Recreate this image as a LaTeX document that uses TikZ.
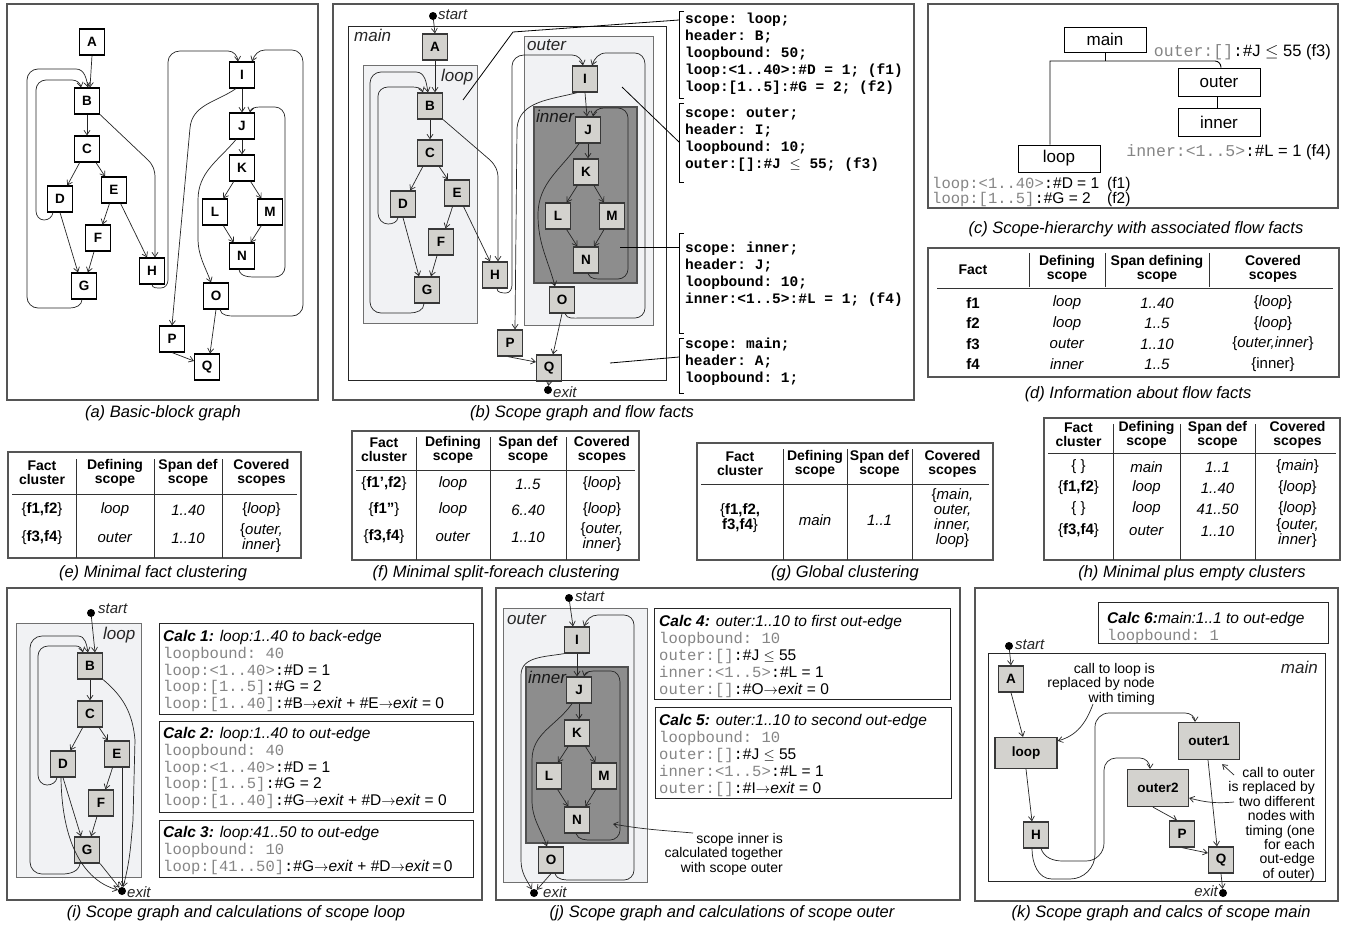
\documentclass[tikz,border=0pt]{standalone}
\usepackage{fontspec}
\setmainfont{Liberation Sans}
\setmonofont{Liberation Mono}
\usetikzlibrary{arrows.meta}
\definecolor{panelgray}{HTML}{555555}
\definecolor{nodefill}{HTML}{D3D2CE}
\definecolor{nodeedge}{HTML}{383838}
\definecolor{scopefill}{HTML}{F1F2F4}
\definecolor{scopeedge}{HTML}{707070}
\definecolor{innerfill}{HTML}{8D8D8D}
\definecolor{inneredge}{HTML}{505050}
\definecolor{monogray}{HTML}{858585}
\newcommand{\myfs}[1]{\fontsize{#1}{#1}\selectfont}
\newcommand{\greymono}[1]{{\color{monogray}\ttfamily #1}}
\newcommand{\dcolon}{{\ttfamily:}}
\newcommand{\toexit}{$\rightarrow$\textit{exit}}
\tikzset{
  bb/.style={draw=black, line width=1.1pt, fill=white, minimum width=25pt, minimum height=26pt, inner sep=0pt, font=\myfs{13.5}\bfseries},
  sb/.style={bb, fill=nodefill, draw=nodeedge, line width=1.3pt},
  ed/.style={draw=black!85, line width=0.7pt, -{Straight Barb[length=4.5pt,width=6pt]}},
  pnl/.style={draw=panelgray, line width=1.1pt},
  scp/.style={draw=scopeedge, line width=0.9pt, fill=scopefill},
  inr/.style={draw=inneredge, line width=1.2pt, fill=innerfill},
  framebox/.style={draw=black!85, line width=0.9pt},
  captxt/.style={font=\myfs{16.5}\itshape, inner sep=0pt},
  slbl/.style={font=\myfs{17}\itshape, inner sep=0pt, anchor=west, text=black!85},
  elbl/.style={font=\myfs{15}\itshape, inner sep=0pt, text=black!85},
  blackdot/.style={circle, fill=black, inner sep=0pt, minimum size=8pt},
  ldr/.style={draw=black, line width=0.8pt},
  treeln/.style={draw=black, line width=0.9pt},
  tbox/.style={draw=black, line width=0.9pt, minimum width=82pt, inner sep=0pt, font=\myfs{17}},
  th/.style={font=\fontsize{14}{14}\selectfont\bfseries, align=center, inner sep=0pt},
  td/.style={font=\fontsize{15}{13.5}\selectfont, align=center, inner sep=0pt},
  tline/.style={draw=black!80, line width=0.8pt},
  calctxt/.style={anchor=north west, inner sep=0pt, font=\fontsize{15.5}{16.6}\selectfont},
  bfact/.style={anchor=north west, inner sep=0pt, font=\fontsize{14.5}{17}\selectfont\ttfamily\bfseries},
  annot/.style={anchor=north east, inner sep=0pt, font=\fontsize{14}{14.3}\selectfont},
}
\begin{document}
\begin{tikzpicture}[x=1pt,y=1pt]
\useasboundingbox (0,0) rectangle (1348,-929);
\fill[white] (0,0) rectangle (1348,-929);

% ================= (a) =================
\draw[pnl] (7,-4) rectangle (318,-400);
\node[bb] (aA) at (92,-42) {A};
\node[bb] (aB) at (87,-101) {B};
\node[bb] (aC) at (87,-149) {C};
\node[bb] (aD) at (60,-199) {D};
\node[bb] (aE) at (114,-190) {E};
\node[bb] (aF) at (98,-238) {F};
\node[bb] (aG) at (84,-286) {G};
\node[bb] (aH) at (152,-271) {H};
\node[bb] (aI) at (242,-75) {I};
\node[bb] (aJ) at (242,-126) {J};
\node[bb] (aK) at (242,-168) {K};
\node[bb] (aL) at (215,-212) {L};
\node[bb] (aM) at (270,-212) {M};
\node[bb] (aN) at (242,-256) {N};
\node[bb] (aO) at (216,-296) {O};
\node[bb] (aP) at (172,-339) {P};
\node[bb] (aQ) at (207,-367) {Q};
\draw[ed] (aA.south) -- ([xshift=3pt]aB.north);
\draw[ed] (aB) -- (aC);
\draw[ed] (aC) -- (aD);
\draw[ed] (aC) -- (aE);
\draw[ed] (aE) -- (aF);
\draw[ed] (aF) -- (aG);
\draw[ed] (aD.south) -- ([xshift=-6pt]aG.north);
\draw[ed] (aE) -- ([xshift=-5pt]aH.north);
\draw[ed] (aB.south east) -- (148,-160) to[out=-45,in=90] (155,-178) -- ([xshift=3pt]aH.north);
\draw[ed] ([xshift=-2pt]aG.south) to[out=-90,in=0] (70,-308) -- (38,-308) to[out=180,in=-90] (27,-297) -- (27,-80) to[out=90,in=180] (38,-69) -- (76,-69) to[out=0,in=100] ([xshift=1pt]aB.north);
\draw[ed] ([xshift=-7pt]aD.south) to[out=-100,in=0] (44,-220) to[out=180,in=-90] (36,-211) -- (36,-90) to[out=90,in=180] (46,-80) -- (72,-80) to[out=0,in=100] ([xshift=-6pt]aB.north);
\draw[ed] (aH.south) to[out=-90,in=180] (161,-288) to[out=0,in=-90] (168,-280) -- (168,-62) to[out=90,in=180] (180,-51) -- (228,-51) to[out=0,in=95] ([xshift=-4pt]aI.north);
\draw[ed] (aI) -- (aJ);
\draw[ed] ([xshift=-6pt]aI.south) to[out=-145,in=85] (190,-128) -- (aP.north);
\draw[ed] (aJ) -- (aK);
\draw[ed] ([xshift=-6pt]aJ.south) to[out=-130,in=90] (198,-200) -- (198,-238) to[out=-90,in=110] ([xshift=-5pt]aO.north);
\draw[ed] (aK) -- (aL);
\draw[ed] (aK) -- (aM);
\draw[ed] (aL) -- (aN);
\draw[ed] (aM) -- (aN);
\draw[ed] ([xshift=-3pt]aN.south) to[out=-80,in=180] (258,-277) -- (275,-277) to[out=0,in=-90] (285,-267) -- (285,-118) to[out=90,in=0] (275,-107) -- (260,-107) to[out=180,in=80] ([xshift=8pt]aJ.north);
\draw[ed] ([xshift=4pt]aO.south) to[out=-80,in=180] (235,-316) -- (292,-316) to[out=0,in=-90] (303,-305) -- (303,-62) to[out=90,in=0] (292,-50) -- (265,-50) to[out=180,in=70] ([xshift=10pt]aI.north);
\draw[ed] (aO.south) -- ([xshift=3pt]aQ.north);
\draw[ed] (aP.south) -- ([yshift=6pt]aQ.west);
\node[captxt] (capa) at (163,-413) {(a) Basic-block graph};

% ================= (b) =================
\draw[pnl] (333,-4) rectangle (914,-400);
\draw[framebox, fill=white] (348,-26) rectangle (666,-380);
\node[slbl] (blmain) at (354,-35) {main};
\draw[scp] (363,-65) rectangle (477,-323);
\node[slbl] (blloop) at (441,-77) {loop};
\draw[scp] (524,-36) rectangle (653,-325);
\node[slbl] (blouter) at (527,-45) {outer};
\draw[inr] (534,-107) rectangle (637,-283);
\node[slbl, text=black!90] (blinner) at (536,-116) {inner};
\node[sb] (bA) at (435,-47) {A};
\node[sb] (bB) at (430,-106) {B};
\node[sb] (bC) at (430,-153) {C};
\node[sb] (bD) at (403,-204) {D};
\node[sb] (bE) at (457,-193) {E};
\node[sb] (bF) at (441,-242) {F};
\node[sb] (bG) at (427,-290) {G};
\node[sb] (bH) at (495,-275) {H};
\node[sb] (bI) at (585,-79) {I};
\node[sb] (bJ) at (588,-130) {J};
\node[sb] (bK) at (586,-172) {K};
\node[sb] (bL) at (558,-216) {L};
\node[sb] (bM) at (612,-216) {M};
\node[sb] (bN) at (586,-260) {N};
\node[sb] (bO) at (562,-300) {O};
\node[sb] (bP) at (510,-343) {P};
\node[sb] (bQ) at (549,-368) {Q};
\node[blackdot] (bstart) at (433,-16) {};
\node[elbl, anchor=west] (bstartl) at (438,-15) {start};
\node[blackdot] (bexit) at (548,-390) {};
\node[elbl, anchor=west] (bexitl) at (553,-392) {exit};
\draw[ed] (bstart) -- (bA.north);
\draw[ed] (bA.south) -- ([xshift=5pt]bB.north);
\draw[ed] (bB) -- (bC);
\draw[ed] (bC) -- (bD);
\draw[ed] (bC) -- (bE);
\draw[ed] (bE) -- (bF);
\draw[ed] (bF) -- (bG);
\draw[ed] (bD.south) -- ([xshift=-8pt]bG.north);
\draw[ed] (bE) -- ([xshift=-5pt]bH.north);
\draw[ed] (bB.south east) -- (490,-160) to[out=-45,in=90] (498,-178) -- ([xshift=3pt]bH.north);
\draw[ed] ([xshift=-3pt]bG.south) to[out=-90,in=0] (410,-313) -- (381,-313) to[out=180,in=-90] (370,-302) -- (370,-83) to[out=90,in=180] (381,-72) -- (416,-72) to[out=0,in=100] ([xshift=-2pt]bB.north);
\draw[ed] ([xshift=-5pt]bD.south) to[out=-100,in=0] (388,-224) to[out=180,in=-90] (378,-213) -- (378,-96) to[out=90,in=180] (388,-87) -- (412,-87) to[out=0,in=110] ([xshift=-7pt]bB.north);
\draw[ed] ([xshift=2pt]bH.south) to[out=-90,in=180] (506,-293) to[out=0,in=-90] (512,-285) -- (512,-66) to[out=90,in=180] (524,-55) -- (572,-55) to[out=0,in=100] ([xshift=-2pt]bI.north);
\draw[ed] (bI.south) -- ([xshift=-1pt]bJ.north);
\draw[ed] ([xshift=-8pt]bI.south) to[out=-165,in=85] (517,-128) -- ([xshift=5pt]bP.north);
\draw[ed] (bJ.south) -- ([xshift=2pt]bK.north);
\draw[ed] ([xshift=-9pt]bJ.south) to[out=-125,in=90] (538,-215) to[out=-90,in=105] ([xshift=-7pt]bO.north);
\draw[ed] (bK) -- (bL);
\draw[ed] (bK) -- (bM);
\draw[ed] (bL) -- (bN);
\draw[ed] (bM) -- (bN);
\draw[ed] ([xshift=2pt]bN.south) to[out=-70,in=180] (604,-279) -- (618,-279) to[out=0,in=-90] (628,-269) -- (628,-118) to[out=90,in=0] (618,-108) -- (604,-108) to[out=180,in=80] ([xshift=5pt]bJ.north);
\draw[ed] ([xshift=3pt]bO.south) to[out=-70,in=180] (580,-318) -- (635,-318) to[out=0,in=-90] (645,-308) -- (645,-64) to[out=90,in=0] (635,-53) -- (606,-53) to[out=180,in=70] ([xshift=7pt]bI.north);
\draw[ed] (bO.south) -- ([xshift=4pt]bQ.north);
\draw[ed] ([xshift=-2pt]bP.south) -- ([yshift=6pt]bQ.west);
\draw[ed] (bQ.south) -- (bexit);
% leaders and brackets
\draw[ldr] (463,-100) -- (513,-32) -- (679,-20);
\draw[ldr] (684,-11) -- (679,-11) -- (679,-98) -- (684,-98);
\draw[ldr] (622,-87) -- (679,-142);
\draw[ldr] (684,-103) -- (679,-103) -- (679,-182) -- (684,-182);
\draw[ldr] (620,-247) -- (679,-247);
\draw[ldr] (684,-233) -- (679,-233) -- (679,-333) -- (684,-333);
\draw[ldr] (610,-363) -- (679,-357);
\draw[ldr] (684,-338) -- (679,-338) -- (679,-393) -- (684,-393);
\node[bfact] (bfloop) at (685,-11.3) {\begin{tabular}{@{}l@{}}scope: loop;\\header: B;\\loopbound: 50;\\loop:<1..40>:\#D = 1; (f1)\\loop:[1..5]:\#G = 2; (f2)\end{tabular}};
\node[bfact] (bfouter) at (685,-105.3) {\begin{tabular}{@{}l@{}}scope: outer;\\header: I;\\loopbound: 10;\\outer:[]:\#J $\le$ 55; (f3)\end{tabular}};
\node[bfact] (bfinner) at (685,-240.3) {\begin{tabular}{@{}l@{}}scope: inner;\\header: J;\\loopbound: 10;\\inner:<1..5>:\#L = 1; (f4)\end{tabular}};
\node[bfact] (bfmain) at (685,-336.3) {\begin{tabular}{@{}l@{}}scope: main;\\header: A;\\loopbound: 1;\end{tabular}};
\node[captxt] (capb) at (582,-413) {(b) Scope graph and flow facts};

% ================= (c) =================
\draw[pnl] (928,-4) rectangle (1338,-208);
\node[tbox, minimum height=25pt] (cmain) at (1105,-39.5) {main};
\node[tbox, minimum height=28pt] (couter) at (1219,-82) {outer};
\node[tbox, minimum height=28pt] (cinner) at (1219,-122) {inner};
\node[tbox, minimum height=27pt] (cloop) at (1059,-158.5) {loop};
\coordinate (cj) at (1105,-61);
\draw[treeln] (cmain.south) -- (cj);
\draw[treeln] ([xshift=-9pt]cloop.north) |- (1215,-61) to[out=0,in=90] ([xshift=2pt]couter.north);
\draw[treeln] ([xshift=-2pt]couter.south) -- ([xshift=-2pt]cinner.north);
\node[anchor=east, inner sep=0pt, font=\myfs{16.5}] (cf3) at (1331,-52) {\greymono{outer:[]}\dcolon\#J $\le$ 55 (f3)};
\node[anchor=east, inner sep=0pt, font=\myfs{16.5}] (cf4) at (1331,-152) {\greymono{inner:<1..5>}\dcolon\#L = 1 (f4)};
\node[anchor=north west, inner sep=0pt, font=\fontsize{15.5}{13.5}\selectfont] (cf12) at (932,-177) {\begin{tabular}{@{}l@{\hspace{8pt}}l@{}}\greymono{loop:<1..40>}\dcolon\#D = 1 & (f1)\\ \greymono{loop:[1..5]}\dcolon\#G = 2 & (f2)\end{tabular}};
\node[captxt] (capc) at (1136,-229) {(c) Scope-hierarchy with associated flow facts};

% ================= (d) =================
\draw[pnl] (928,-248) rectangle (1339,-377);
\draw[tline] (1029,-253) -- (1029,-287);
\draw[tline] (1105,-253) -- (1105,-287);
\draw[tline] (1209,-253) -- (1209,-287);
\draw[tline] (937,-288) -- (1333,-288);
\node[th] (dh1) at (973,-270) {Fact};
\node[th] (dh2) at (1067,-269) {Defining\\scope};
\node[th] (dh3) at (1157,-269) {Span defining\\scope};
\node[th] (dh4) at (1273,-269) {Covered\\scopes};
\node[td] (d1a) at (973,-303) {\textbf{f1}};
\node[td] (d1b) at (1067,-303) {\textit{loop}};
\node[td] (d1c) at (1157,-303) {\textit{1..40}};
\node[td] (d1d) at (1273,-303) {\{\textit{loop}\}};
\node[td] (d2a) at (973,-323.5) {\textbf{f2}};
\node[td] (d2b) at (1067,-323.5) {\textit{loop}};
\node[td] (d2c) at (1157,-323.5) {\textit{1..5}};
\node[td] (d2d) at (1273,-323.5) {\{\textit{loop}\}};
\node[td] (d3a) at (973,-344) {\textbf{f3}};
\node[td] (d3b) at (1067,-344) {\textit{outer}};
\node[td] (d3c) at (1157,-344) {\textit{1..10}};
\node[td] (d3d) at (1273,-344) {\{\textit{outer,inner}\}};
\node[td] (d4a) at (973,-364.5) {\textbf{f4}};
\node[td] (d4b) at (1067,-364.5) {\textit{inner}};
\node[td] (d4c) at (1157,-364.5) {\textit{1..5}};
\node[td] (d4d) at (1273,-364.5) {\{inner\}};
\node[captxt] (capd) at (1138,-394) {(d) Information about flow facts};

% ================= (e) =================
\draw[pnl] (8,-452) rectangle (301,-558);
\draw[tline] (76,-459) -- (76,-558);
\draw[tline] (154,-459) -- (154,-558);
\draw[tline] (222,-459) -- (222,-558);
\draw[tline] (12,-494) -- (297,-494);
\node[th] (eh1) at (42,-473) {Fact\\cluster};
\node[th] (eh2) at (115,-473) {Defining\\scope};
\node[th] (eh3) at (188,-473) {Span def\\scope};
\node[th] (eh4) at (261.5,-473) {Covered\\scopes};
\node[td] (e1a) at (42,-510) {\{\textbf{f1,f2}\}};
\node[td] (e1b) at (115,-510) {\textit{loop}};
\node[td] (e1c) at (188,-510) {\textit{1..40}};
\node[td] (e1d) at (261.5,-510) {\{\textit{loop}\}};
\node[td] (e2a) at (42,-538) {\{\textbf{f3,f4}\}};
\node[td] (e2b) at (115,-538) {\textit{outer}};
\node[td] (e2c) at (188,-538) {\textit{1..10}};
\node[td] (e2d) at (261.5,-538) {\{\textit{outer,}\\\textit{inner}\}};
\node[captxt] (cape) at (153,-573) {(e) Minimal fact clustering};

% ================= (f) =================
\draw[pnl] (352,-431) rectangle (639,-560);
\draw[tline] (416,-437) -- (416,-560);
\draw[tline] (490,-437) -- (490,-560);
\draw[tline] (566,-437) -- (566,-560);
\draw[tline] (356,-470) -- (635,-470);
\node[th] (fh1) at (384,-450) {Fact\\cluster};
\node[th] (fh2) at (453,-450) {Defining\\scope};
\node[th] (fh3) at (528,-450) {Span def\\scope};
\node[th] (fh4) at (602,-450) {Covered\\scopes};
\node[td] (f1a) at (384,-484) {\{\textbf{f1',f2}\}};
\node[td] (f1b) at (453,-484) {\textit{loop}};
\node[td] (f1c) at (528,-484) {\textit{1..5}};
\node[td] (f1d) at (602,-484) {\{\textit{loop}\}};
\node[td] (f2a) at (384,-510) {\{\textbf{f1''}\}};
\node[td] (f2b) at (453,-510) {\textit{loop}};
\node[td] (f2c) at (528,-510) {\textit{6..40}};
\node[td] (f2d) at (602,-510) {\{\textit{loop}\}};
\node[td] (f3a) at (384,-537) {\{\textbf{f3,f4}\}};
\node[td] (f3b) at (453,-537) {\textit{outer}};
\node[td] (f3c) at (528,-537) {\textit{1..10}};
\node[td] (f3d) at (602,-537) {\{\textit{outer,}\\\textit{inner}\}};
\node[captxt] (capf) at (496,-573) {(f) Minimal split-foreach clustering};

% ================= (g) =================
\draw[pnl] (697,-443) rectangle (993,-560);
\draw[tline] (783,-449) -- (783,-560);
\draw[tline] (847,-449) -- (847,-560);
\draw[tline] (912,-449) -- (912,-560);
\draw[tline] (701,-484) -- (989,-484);
\node[th] (gh1) at (740,-464) {Fact\\cluster};
\node[th] (gh2) at (815,-464) {Defining\\scope};
\node[th] (gh3) at (879.5,-464) {Span def\\scope};
\node[th] (gh4) at (952.5,-464) {Covered\\scopes};
\node[td, font=\fontsize{15}{14.5}\selectfont] (g1a) at (740,-518) {\{\textbf{f1,f2,}\\\textbf{f3,f4}\}};
\node[td] (g1b) at (815,-520) {\textit{main}};
\node[td] (g1c) at (879.5,-520) {\textit{1..1}};
\node[td, font=\fontsize{15}{15}\selectfont] (g1d) at (952.5,-518) {\{\textit{main,}\\\textit{outer,}\\\textit{inner,}\\\textit{loop}\}};
\node[captxt] (capg) at (845,-573) {(g) Global clustering};

% ================= (h) =================
\draw[pnl] (1044,-418) rectangle (1340,-560);
\draw[tline] (1113,-424) -- (1113,-560);
\draw[tline] (1180,-424) -- (1180,-560);
\draw[tline] (1255,-424) -- (1255,-560);
\draw[tline] (1048,-453) -- (1336,-453);
\node[th] (hh1) at (1078.5,-435) {Fact\\cluster};
\node[th] (hh2) at (1146.5,-435) {Defining\\scope};
\node[th] (hh3) at (1217.5,-435) {Span def\\scope};
\node[th] (hh4) at (1297.5,-435) {Covered\\scopes};
\node[td] (h1a) at (1078.5,-467) {\{ \}};
\node[td] (h1b) at (1146.5,-467) {\textit{main}};
\node[td] (h1c) at (1217.5,-467) {\textit{1..1}};
\node[td] (h1d) at (1297.5,-467) {\{\textit{main}\}};
\node[td] (h2a) at (1078.5,-488) {\{\textbf{f1,f2}\}};
\node[td] (h2b) at (1146.5,-488) {\textit{loop}};
\node[td] (h2c) at (1217.5,-488) {\textit{1..40}};
\node[td] (h2d) at (1297.5,-488) {\{\textit{loop}\}};
\node[td] (h3a) at (1078.5,-509) {\{ \}};
\node[td] (h3b) at (1146.5,-509) {\textit{loop}};
\node[td] (h3c) at (1217.5,-509) {\textit{41..50}};
\node[td] (h3d) at (1297.5,-509) {\{\textit{loop}\}};
\node[td] (h4a) at (1078.5,-531) {\{\textbf{f3,f4}\}};
\node[td] (h4b) at (1146.5,-531) {\textit{outer}};
\node[td] (h4c) at (1217.5,-531) {\textit{1..10}};
\node[td] (h4d) at (1297.5,-533) {\{\textit{outer,}\\\textit{inner}\}};
\node[captxt] (caph) at (1192,-573) {(h) Minimal plus empty clusters};

% ================= (i) =================
\draw[pnl] (7,-588) rectangle (482,-900);
\draw[scp] (16,-623) rectangle (141,-877);
\node[slbl] (illoop) at (103,-635) {loop};
\node[sb] (iB) at (90,-666) {B};
\node[sb] (iC) at (90,-714) {C};
\node[sb] (iD) at (63,-764) {D};
\node[sb] (iE) at (117,-754) {E};
\node[sb] (iF) at (101,-803) {F};
\node[sb] (iG) at (87,-850) {G};
\node[blackdot] (istart) at (91,-613) {};
\node[elbl, anchor=west] (istartl) at (98,-609) {start};
\node[blackdot] (iexit) at (122,-891) {};
\node[elbl, anchor=west] (iexitl) at (127,-892) {exit};
\draw[ed] (istart) -- ([xshift=5pt]iB.north);
\draw[ed] (iB) -- (iC);
\draw[ed] (iC) -- (iD);
\draw[ed] (iC) -- (iE);
\draw[ed] (iE) -- (iF);
\draw[ed] (iF) -- (iG);
\draw[ed] (iD.south) -- ([xshift=-6pt]iG.north);
\draw[ed] ([xshift=-6pt]iD.south) to[out=-100,in=0] (47,-785) to[out=180,in=-90] (38,-775) -- (38,-656) to[out=90,in=180] (48,-646) -- (76,-646) to[out=0,in=105] ([xshift=-7pt]iB.north);
\draw[ed] ([xshift=-7pt]iG.south) to[out=-100,in=0] (62,-874) -- (42,-874) to[out=180,in=-90] (30,-862) -- (30,-648) to[out=90,in=180] (42,-636) -- (78,-636) to[out=0,in=100] ([xshift=-2pt]iB.north);
\draw[ed] (iB.south east) to[out=-40,in=95] (135,-740) -- (133,-820) to[out=-95,in=75] (iexit);
\draw[ed] ([xshift=5pt]iE.south) -- (iexit);
\draw[ed] ([xshift=-2pt]iD.south) .. controls (62,-850) and (88,-882) .. (iexit);
\draw[ed] (iG.south east) -- (iexit);
\draw[framebox] (159,-623) rectangle (473,-714);
\draw[framebox] (159,-721) rectangle (473,-812);
\draw[framebox] (159,-820) rectangle (473,-877);
\node[calctxt] (ic1) at (163,-630) {\begin{tabular}{@{}l@{}}\textbf{\textit{Calc 1:}} \textit{loop:1..40 to back-edge}\\\greymono{loopbound: 40}\\\greymono{loop:<1..40>}\dcolon\#D = 1\\\greymono{loop:[1..5]}\dcolon\#G = 2\\\greymono{loop:[1..40]}\dcolon\#B\toexit{} + \#E\toexit{} = 0\end{tabular}};
\node[calctxt] (ic2) at (163,-727) {\begin{tabular}{@{}l@{}}\textbf{\textit{Calc 2:}} \textit{loop:1..40 to out-edge}\\\greymono{loopbound: 40}\\\greymono{loop:<1..40>}\dcolon\#D = 1\\\greymono{loop:[1..5]}\dcolon\#G = 2\\\greymono{loop:[1..40]}\dcolon\#G\toexit{} + \#D\toexit{} = 0\end{tabular}};
\node[calctxt] (ic3) at (163,-826) {\begin{tabular}{@{}l@{}}\textbf{\textit{Calc 3:}} \textit{loop:41..50 to out-edge}\\\greymono{loopbound: 10}\\\greymono{loop:[41..50]}\dcolon\#G\toexit{} + \#D\toexit\,=\,0\end{tabular}};
\node[captxt] (capi) at (236,-913) {(i) Scope graph and calculations of scope loop};

% ================= (j) =================
\draw[pnl] (496,-588) rectangle (960,-900);
\draw[scp] (503,-608) rectangle (647,-882);
\node[slbl] (jlouter) at (507,-619) {outer};
\draw[inr] (526,-667) rectangle (628,-843);
\node[slbl, text=black!90] (jlinner) at (528,-677) {inner};
\node[sb] (jI) at (577,-640) {I};
\node[sb] (jJ) at (579,-690) {J};
\node[sb] (jK) at (577,-733) {K};
\node[sb] (jL) at (549,-776) {L};
\node[sb] (jM) at (604,-776) {M};
\node[sb] (jN) at (577,-820) {N};
\node[sb] (jO) at (551,-860) {O};
\node[blackdot] (jstart) at (569,-598) {};
\node[elbl, anchor=west] (jstartl) at (575,-597) {start};
\node[blackdot] (jexit) at (534,-893) {};
\node[elbl, anchor=west] (jexitl) at (543,-892) {exit};
\draw[ed] (jstart) -- ([xshift=-4pt]jI.north);
\draw[ed] (jI.south) -- ([xshift=-2pt]jJ.north);
\draw[ed] (jJ.south) -- ([xshift=2pt]jK.north);
\draw[ed] (jK) -- (jL);
\draw[ed] (jK) -- (jM);
\draw[ed] (jL) -- (jN);
\draw[ed] (jM) -- (jN);
\draw[ed] ([xshift=-1pt]jN.south) to[out=-70,in=180] (592,-840) -- (610,-840) to[out=0,in=-90] (620,-830) -- (620,-682) to[out=90,in=0] (611,-671) -- (597,-671) to[out=180,in=75] ([xshift=5pt]jJ.north);
\draw[ed] ([xshift=-7pt]jJ.south) to[out=-125,in=90] (532,-760) -- (532,-800) to[out=-90,in=110] ([xshift=-4pt]jO.north);
\draw[ed] ([xshift=4pt]jO.south) to[out=-70,in=180] (572,-880) -- (624,-880) to[out=0,in=-90] (634,-870) -- (634,-625) to[out=90,in=0] (624,-615) -- (598,-615) to[out=180,in=70] ([xshift=7pt]jI.north);
\draw[ed] (jI.south west) to[out=-170,in=90] (521,-675) -- (521,-860) to[out=-90,in=120] (jexit);
\draw[ed] (jO.south) -- (jexit);
\node[annot, font=\fontsize{14}{14.5}\selectfont] (jnote) at (783,-833) {\begin{tabular}{@{}r@{}}scope inner is\\calculated together\\with scope outer\end{tabular}};
\coordinate (jna) at (693,-833);
\coordinate (jnt) at (613,-824);
\draw[ed] (jna) to[out=175,in=-10] (jnt);
\draw[framebox] (654,-608) rectangle (950,-699);
\draw[framebox] (655,-707) rectangle (951,-798);
\node[calctxt, font=\fontsize{15.5}{17}\selectfont] (jc4) at (659,-614) {\begin{tabular}{@{}l@{}}\textbf{\textit{Calc 4:}} \textit{outer:1..10 to first out-edge}\\\greymono{loopbound: 10}\\\greymono{outer:[]}\dcolon\#J $\le$ 55\\\greymono{inner:<1..5>}\dcolon\#L = 1\\\greymono{outer:[]}\dcolon\#O\toexit{} = 0\end{tabular}};
\node[calctxt, font=\fontsize{15.5}{17}\selectfont] (jc5) at (659,-713) {\begin{tabular}{@{}l@{}}\textbf{\textit{Calc 5:}} \textit{outer:1..10 to second out-edge}\\\greymono{loopbound: 10}\\\greymono{outer:[]}\dcolon\#J $\le$ 55\\\greymono{inner:<1..5>}\dcolon\#L = 1\\\greymono{outer:[]}\dcolon\#I\toexit{} = 0\end{tabular}};
\node[captxt] (capj) at (722,-913) {(j) Scope graph and calculations of scope outer};

% ================= (k) =================
\draw[pnl] (975,-588) rectangle (1338,-901);
\draw[framebox] (1098,-602) rectangle (1328,-643);
\node[calctxt, font=\fontsize{15.5}{17}\selectfont] (kc6) at (1107,-611) {\begin{tabular}{@{}l@{}}\textbf{\textit{Calc 6:}}\textit{main:1..1 to out-edge}\\\greymono{loopbound: 1}\end{tabular}};
\draw[framebox] (988,-653) rectangle (1325,-881);
\node[slbl, anchor=east] (klmain) at (1318,-667) {main};
\node[sb] (kA) at (1011,-679) {A};
\node[sb, minimum width=62pt, minimum height=31pt] (kloop) at (1026,-753) {loop};
\node[sb] (kH) at (1036,-835) {H};
\node[sb, minimum width=61pt, minimum height=37pt] (kO1) at (1209,-741) {outer1};
\node[sb, minimum width=61pt, minimum height=37pt] (kO2) at (1158,-788) {outer2};
\node[sb] (kP) at (1182,-834) {P};
\node[sb] (kQ) at (1221,-860) {Q};
\node[blackdot] (kstart) at (1009,-646) {};
\node[elbl, anchor=west] (kstartl) at (1015,-645) {start};
\node[blackdot] (kexit) at (1223,-893) {};
\node[elbl, anchor=east] (kexitl) at (1218,-891) {exit};
\draw[ed] (kstart) -- (kA.north);
\draw[ed] (kA.south) -- ([xshift=-3pt]kloop.north);
\draw[ed] (kloop.south) -- ([xshift=-4pt]kH.north);
\draw[ed] ([xshift=-4pt]kH.south) to[out=-90,in=180] (1052,-879) -- (1070,-879) to[out=0,in=-90] (1095,-854) -- (1095,-727) to[out=90,in=180] (1109,-713) -- (1185,-713) to[out=0,in=90] ([xshift=-14pt]kO1.north);
\draw[ed] ([xshift=5pt]kH.south) to[out=-70,in=180] (1063,-861) -- (1086,-861) to[out=0,in=-90] (1104,-843) -- (1104,-770) to[out=90,in=180] (1116,-758) -- (1140,-758) to[out=0,in=90] ([xshift=-8pt]kO2.north);
\draw[ed] ([xshift=-5pt]kO2.south) -- ([xshift=-5pt]kP.north);
\draw[ed] (kP.south) -- ([yshift=7pt]kQ.west);
\draw[ed] ([xshift=-1pt]kO1.south) -- ([xshift=-4pt]kQ.north);
\draw[ed] (kQ.south) -- (kexit);
\node[annot] (kn1) at (1155,-663) {\begin{tabular}{@{}r@{}}call to loop is\\replaced by node\\with timing\end{tabular}};
\coordinate (kn1a) at (1093,-704);
\draw[ed] (kn1a) to[out=-110,in=15] ([yshift=-4pt]kloop.north east);
\node[annot] (kn2) at (1315,-767) {\begin{tabular}{@{}r@{}}call to outer\\is replaced by\\two different\\nodes with\\timing (one\\for each\\out-edge\\of outer)\end{tabular}};
\coordinate (kn2a) at (1234,-775);
\draw[ed] (kn2a) -- ([xshift=-18pt,yshift=-4pt]kO1.south east);
\coordinate (kn2b) at (1234,-802);
\draw[ed] (kn2b) to[out=185,in=-15] ([yshift=-10pt]kO2.east);
\node[captxt] (capk) at (1161,-913) {(k) Scope graph and calcs of scope main};
\end{tikzpicture}
\end{document}
